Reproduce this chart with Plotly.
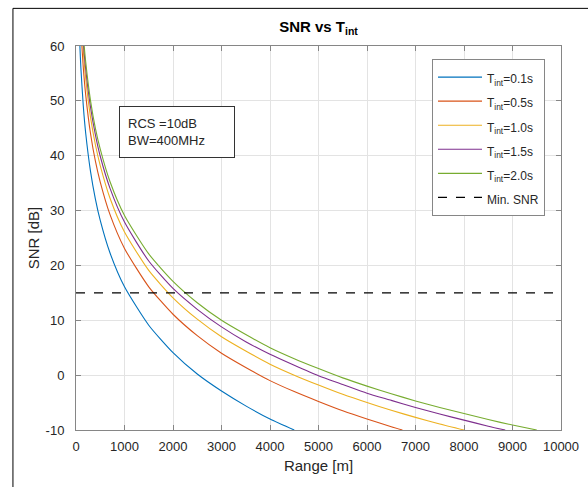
import plotly.graph_objects as go

# Range [m] / SNR [dB] points
R_01 = [60, 80, 100, 150, 200, 300, 400, 500, 700, 1000, 1500, 2000, 2500, 3000, 3500, 4000, 4500]
SNR_01 = [65.0, 60.0, 56.1, 49.1, 44.1, 37.1, 32.1, 28.2, 22.3, 16.1, 9.1, 4.1, 0.2, -2.9, -5.6, -8.0, -10.0]

R_05 = [60, 80, 100, 150, 200, 300, 400, 500, 700, 1000, 1500, 2000, 2500, 3000, 3500, 4000, 4500,
        5000, 5500, 6000, 6500, 6730]
SNR_05 = [72.0, 67.0, 63.1, 56.1, 51.1, 44.0, 39.0, 35.2, 29.3, 23.1, 16.1, 11.1, 7.2, 4.0, 1.4, -1.0, -3.0,
          -4.8, -6.5, -8.0, -9.4, -10.0]

R_10 = [80, 100, 150, 200, 300, 400, 500, 700, 1000, 1500, 2000, 2500, 3000, 3500, 4000, 4500,
        5000, 5500, 6000, 6500, 7000, 7500, 8000]
SNR_10 = [70.0, 66.1, 59.1, 54.1, 47.0, 42.0, 38.2, 32.3, 26.1, 19.1, 14.1, 10.2, 7.0, 4.4, 2.0, 0.0,
          -1.8, -3.5, -5.0, -6.4, -7.7, -8.9, -10.0]

R_15 = [80, 100, 150, 200, 300, 400, 500, 700, 1000, 1500, 2000, 2500, 3000, 3500, 4000, 4500,
        5000, 5500, 6000, 6500, 7000, 7500, 8000, 8500, 8850]
SNR_15 = [71.8, 67.9, 60.8, 55.8, 48.8, 43.8, 39.9, 34.1, 27.9, 20.8, 15.8, 12.0, 8.8, 6.1, 3.8, 1.8,
          -0.1, -1.7, -3.3, -4.6, -5.9, -7.1, -8.2, -9.3, -10.0]

R_20 = [80, 100, 150, 200, 300, 400, 500, 700, 1000, 1500, 2000, 2500, 3000, 3500, 4000, 4500,
        5000, 5500, 6000, 6500, 7000, 7500, 8000, 8500, 9000, 9500]
SNR_20 = [73.0, 69.1, 62.1, 57.1, 50.0, 45.0, 41.2, 35.3, 29.1, 22.1, 17.1, 13.2, 10.0, 7.4, 5.0, 3.0,
          1.2, -0.5, -2.0, -3.4, -4.7, -5.9, -7.0, -8.1, -9.1, -10.0]

MIN_SNR_X = [0, 10000]
MIN_SNR_Y = [15, 15]

Y_TICKS = [-10, 0, 10, 20, 30, 40, 50, 60]
Y_TICK_TEXT = ["-10", "0", "10", "20", "30", "40", "50", "60"]

SERIES = [
    ("T<sub>int</sub>=0.1s", R_01, SNR_01, "#0072BD"),
    ("T<sub>int</sub>=0.5s", R_05, SNR_05, "#D95319"),
    ("T<sub>int</sub>=1.0s", R_10, SNR_10, "#EDB120"),
    ("T<sub>int</sub>=1.5s", R_15, SNR_15, "#7E2F8E"),
    ("T<sub>int</sub>=2.0s", R_20, SNR_20, "#77AC30"),
]

FONT = "Liberation Sans, Arial, sans-serif"


def legend_name(text):
    # big legend font sets the row pitch, the span keeps the label small
    return f'<span style="font-size:12px">{text}</span>'


fig = go.Figure()
for name, xs, ys, color in SERIES:
    fig.add_trace(
        go.Scatter(
            x=xs, y=ys, mode="lines", name=legend_name(name),
            line={"color": color, "width": 1.1, "shape": "spline", "smoothing": 0.6},
        )
    )
fig.add_trace(
    go.Scatter(
        x=MIN_SNR_X, y=MIN_SNR_Y, mode="lines", name=legend_name("Min. SNR"),
        line={"color": "#000000", "width": 1.1, "dash": "dash"},
    )
)

axis_style = dict(
    showgrid=True, gridcolor="#e3e3e3", gridwidth=1,
    showline=True, linecolor="#868686", linewidth=1, mirror="allticks",
    ticks="inside", ticklen=5, tickcolor="#868686",
    zeroline=False, tickfont={"size": 13, "color": "#262626"},
    automargin=False,
)

fig.update_layout(
    width=588, height=487,
    margin={"l": 76, "r": 27, "t": 46, "b": 57},
    paper_bgcolor="#ffffff", plot_bgcolor="#ffffff",
    font={"family": FONT, "size": 13, "color": "#262626"},
    title={
        "text": "<b>SNR vs T<sub>int</sub></b>",
        "x": 0.5, "xref": "paper", "xanchor": "center",
        "y": 0.945, "yanchor": "middle",
        "font": {"size": 15, "color": "#000000"},
    },
    showlegend=True,
    legend={
        "x": 0.967, "xanchor": "right", "y": 0.966, "yanchor": "top",
        "bgcolor": "#ffffff", "bordercolor": "#868686", "borderwidth": 1,
        "font": {"size": 16.2, "color": "#262626"},
        "itemwidth": 44, "tracegroupgap": 0,
    },
    shapes=[
        {
            "type": "rect", "xref": "paper", "yref": "paper",
            "x0": -0.13, "x1": 1.3, "y0": -0.4, "y1": 1.098,
            "line": {"color": "#000000", "width": 1},
        }
    ],
    annotations=[
        {
            "text": "RCS =10dB<br>BW=400MHz",
            "xref": "paper", "yref": "paper", "x": 0.0887, "y": 0.844,
            "xanchor": "left", "yanchor": "top", "showarrow": False,
            "align": "left", "width": 98, "height": 34, "borderpad": 8,
            "bordercolor": "#333333", "borderwidth": 1, "bgcolor": "#ffffff",
            "font": {"size": 13, "color": "#262626"},
        }
    ],
)
fig.update_xaxes(
    range=[0, 10000], dtick=1000, tick0=0, tickformat="d", ticklabelstandoff=4,
    title={"text": "Range [m]", "font": {"size": 15}, "standoff": 7},
    **axis_style,
)
fig.update_yaxes(
    range=[-10, 60], tickvals=Y_TICKS, ticktext=Y_TICK_TEXT, ticklabelstandoff=8,
    title={"text": "SNR [dB]", "font": {"size": 15}, "standoff": 2},
    **axis_style,
)

fig.write_html(
    "out.html",
    config={"displayModeBar": False},
    post_script="document.body.style.margin = '0';",
)
